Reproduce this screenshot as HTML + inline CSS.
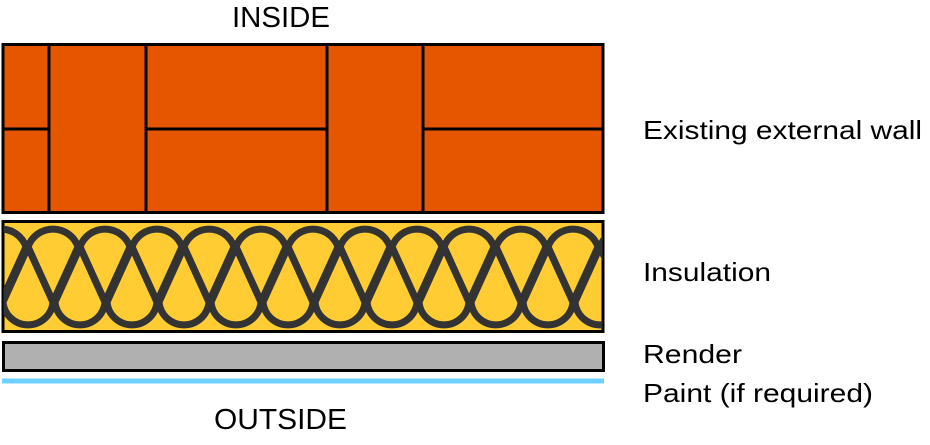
<!DOCTYPE html>
<html><head><meta charset="utf-8"><style>
html,body{margin:0;padding:0;background:#fff;width:930px;height:445px;overflow:hidden}
text{font-family:"Liberation Sans",Arial,sans-serif;fill:#000}
</style></head><body>
<svg width="930" height="445" viewBox="0 0 930 445" xmlns="http://www.w3.org/2000/svg">
<defs>
<clipPath id="c"><rect x="3.5" y="221.5" width="599" height="110"/></clipPath>
<path id="d" d="M0,302 L-25,247 A26.4 26.4 0 0 1 25,247 Z"/>
<path id="u" d="M0,247 L-25,302 A25.1 25.1 0 0 0 25,302 Z"/>
</defs>
<text x="232" y="27" font-size="29" textLength="98" lengthAdjust="spacingAndGlyphs">INSIDE</text>
<rect x="3" y="44.5" width="600" height="168" fill="#e65600" stroke="#000" stroke-width="3"/>
<g stroke="#000" stroke-width="3">
<line x1="49" y1="44" x2="49" y2="213"/>
<line x1="146" y1="44" x2="146" y2="213"/>
<line x1="327" y1="44" x2="327" y2="213"/>
<line x1="423" y1="44" x2="423" y2="213"/>
<line x1="3" y1="129" x2="49" y2="129"/>
<line x1="146" y1="129" x2="327" y2="129"/>
<line x1="423" y1="129" x2="603" y2="129"/>
</g>
<rect x="3" y="221.5" width="600" height="110" fill="#ffcc33" stroke="#000" stroke-width="3"/>
<g clip-path="url(#c)" fill="none" stroke="#333" stroke-width="7" stroke-linejoin="round">
<use href="#d" x="1"/><use href="#d" x="53"/><use href="#d" x="105"/><use href="#d" x="157"/>
<use href="#d" x="209"/><use href="#d" x="261"/><use href="#d" x="313"/><use href="#d" x="365"/>
<use href="#d" x="417"/><use href="#d" x="469"/><use href="#d" x="521"/><use href="#d" x="573"/><use href="#d" x="625"/>
<use href="#u" x="28"/><use href="#u" x="80"/><use href="#u" x="132"/><use href="#u" x="184"/>
<use href="#u" x="236"/><use href="#u" x="288"/><use href="#u" x="340"/><use href="#u" x="392"/>
<use href="#u" x="444"/><use href="#u" x="496"/><use href="#u" x="548"/><use href="#u" x="600"/>
</g>
<rect x="3.5" y="342.5" width="600" height="28" fill="#b0b0b0" stroke="#000" stroke-width="3"/>
<rect x="2" y="378.5" width="602" height="5" fill="#6dd0ff"/>
<text x="214" y="429" font-size="29" textLength="133" lengthAdjust="spacingAndGlyphs">OUTSIDE</text>
<text x="643" y="139" font-size="26" textLength="279" lengthAdjust="spacingAndGlyphs">Existing external wall</text>
<text x="643" y="281" font-size="26" textLength="128" lengthAdjust="spacingAndGlyphs">Insulation</text>
<text x="643" y="363" font-size="26" textLength="99" lengthAdjust="spacingAndGlyphs">Render</text>
<text x="643" y="402" font-size="26" textLength="230" lengthAdjust="spacingAndGlyphs">Paint (if required)</text>
</svg>
</body></html>
